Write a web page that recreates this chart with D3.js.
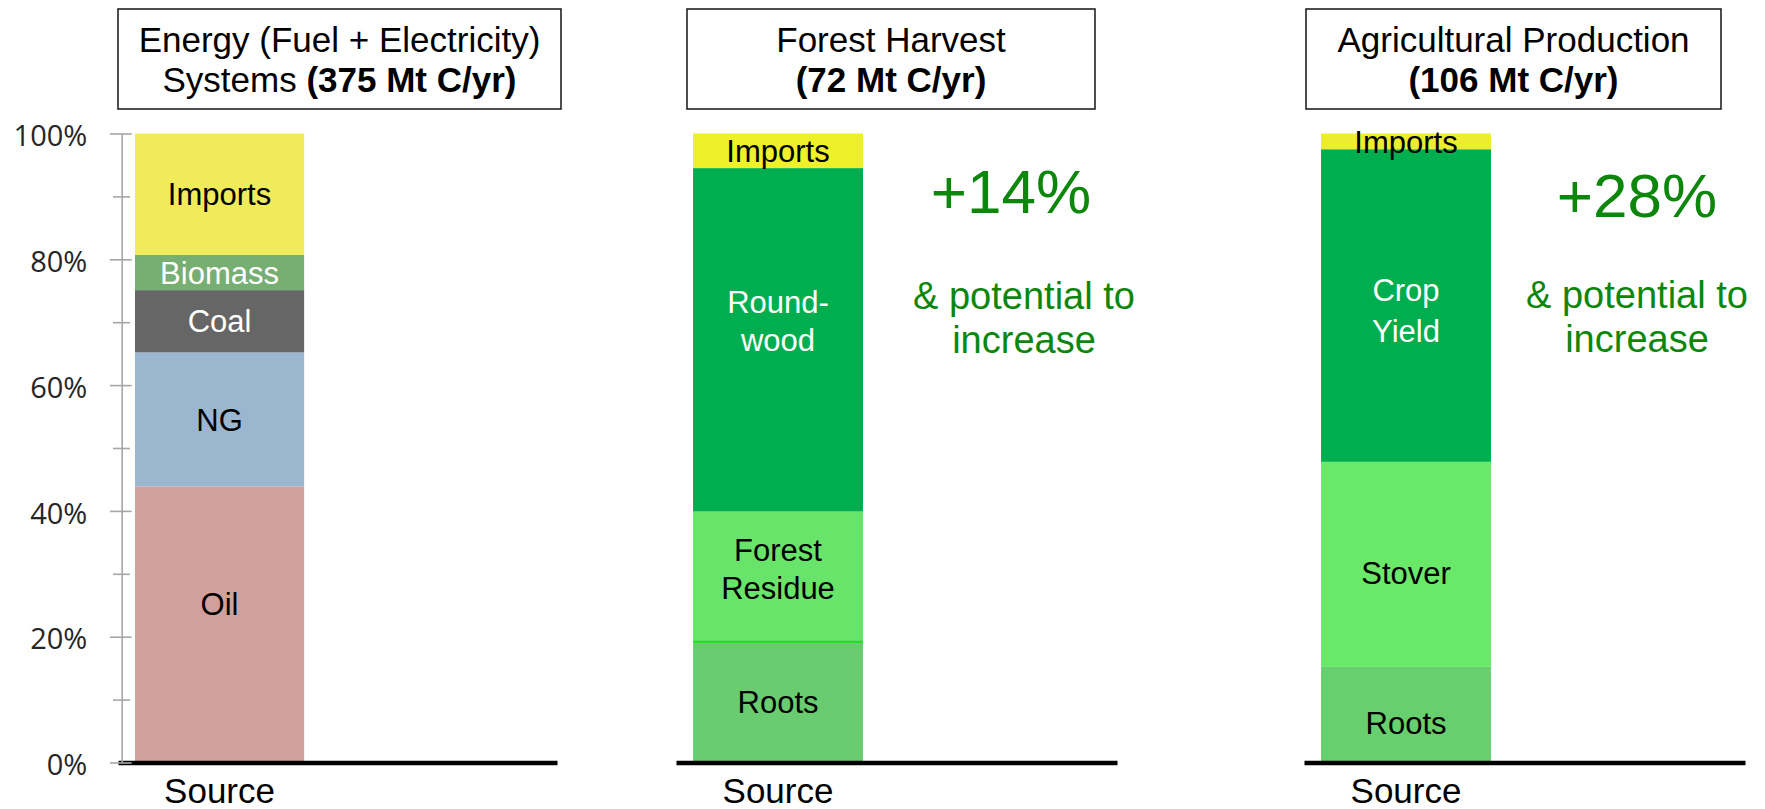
<!DOCTYPE html>
<html>
<head>
<meta charset="utf-8">
<script src="https://cdn.jsdelivr.net/npm/d3@7/dist/d3.min.js"></script>
<style>
    html, body { margin: 0; padding: 0; background: #fff; }
    svg { display: block; }
    .sans { font-family: "Liberation Sans", Arial, Helvetica, sans-serif; }
</style>
</head>
<body>
<svg id="chart" width="1765" height="809"></svg>
<script>
// Kohlenstoffquellen: drei gestapelte 100%-Säulen

// Titel der drei Felder
const titleLine1 = ["Energy (Fuel + Electricity)", "Forest Harvest", "Agricultural Production"];
const titleLead2 = ["Systems ", "", ""];
const titleBold2 = ["(375 Mt C/yr)", "(72 Mt C/yr)", "(106 Mt C/yr)"];

// Kategorien (zweite Kategorie ist leer)
const categories = ["Source", ""];

// Energie
const energySeries = ["Oil", "NG", "Coal", "Biomass", "Imports"];
const energyValues = [43.9, 21.3, 9.9, 5.6, 19.3];
const energyLabels = [["Oil"], ["NG"], ["Coal"], ["Biomass"], ["Imports"]];

// Wald
const forestSeries = ["Roots", "Forest Residue", "Roundwood", "Imports"];
const forestValues = [19.2, 20.7, 54.6, 5.5];
const forestLabels = [["Roots"], ["Forest", "Residue"], ["Round-", "wood"], ["Imports"]];

// Landwirtschaft
const agriSeries = ["Roots", "Stover", "Crop Yield", "Imports"];
const agriValues = [15.2, 32.6, 49.7, 2.5];
const agriLabels = [["Roots"], ["Stover"], ["Crop", "Yield"], ["Imports"]];

// Anmerkungen
const increaseLabels = ["", "+14%", "+28%"];
const increaseNote = ["& potential to", "increase"];

// Y-Achse
const yTicks = [0, 20, 40, 60, 80, 100];
const yMinorTicks = [10, 30, 50, 70, 90];

// Farben
const energyColors = ["#d1a09d", "#9bb6cf", "#666666", "#77ae72", "#efeb5b"];
const energyText = ["#000", "#000", "#fff", "#fff", "#000"];
const forestColors = ["#69cc70", "#68e46a", "#00ae4f", "#eef02a"];
const forestText = ["#000", "#000", "#fff", "#000"];
const agriColors = ["#67cf6d", "#69e86a", "#00ae4f", "#eded2f"];
const agriText = ["#000", "#000", "#fff", "#000"];
const noteColor = "#0c870c";

// Layout der drei Felder
const panels = [
    { key: "energy", series: energySeries, values: energyValues, labels: energyLabels,
      colors: energyColors, text: energyText, axis: [118, 557], box: [118, 561], noteX: null,
      nudge: { Oil: -21 } },
    { key: "forest", series: forestSeries, values: forestValues, labels: forestLabels,
      colors: forestColors, text: forestText, axis: [676, 1117], box: [687, 1095],
      noteX: [1011, 1024], noteY: [213, 309, 353], nudge: { Roundwood: -19, "Forest Residue": -8 },
      lineGap: {}, edge: { Roots: "#22dd22" } },
    { key: "agri", series: agriSeries, values: agriValues, labels: agriLabels,
      colors: agriColors, text: agriText, axis: [1304, 1745], box: [1306, 1721],
      noteX: [1637, 1637], noteY: [217, 308, 352], nudge: { Stover: 8, Roots: 8, "Crop Yield": 5 },
      lineGap: { "Crop Yield": 41 } }
];

const svg = d3.select("#chart");

const y = d3.scaleLinear().domain([0, 100]).range([762.5, 133.5]);

const LABEL_SIZE = 31;
const LABEL_LH = 38;

panels.forEach((p, i) => drawPanel(p, i));
drawYAxis(121.7);

function drawPanel(p, i) {
    const g = svg.append("g").attr("class", "panel " + p.key);

    // Stapel berechnen
    const row = { cat: categories[0] };
    p.series.forEach((s, j) => row[s] = p.values[j]);
    const stacked = d3.stack().keys(p.series)([row]);

    const x = d3.scaleBand()
        .domain(categories)
        .range(p.axis)
        .paddingInner(0.283)
        .paddingOuter(0.072);

    // Segmente
    g.selectAll("rect.seg")
        .data(stacked)
        .join("rect")
        .attr("class", "seg")
        .attr("x", x(categories[0]))
        .attr("width", x.bandwidth())
        .attr("y", d => y(d[0][1]))
        .attr("height", d => y(d[0][0]) - y(d[0][1]))
        .attr("fill", (d, j) => p.colors[j]);

    // Trennlinien
    if (p.edge) {
        g.selectAll("line.edge")
            .data(stacked.filter(d => p.edge[d.key]))
            .join("line")
            .attr("x1", x(categories[0]))
            .attr("x2", x(categories[0]) + x.bandwidth())
            .attr("y1", d => y(d[0][1]))
            .attr("y2", d => y(d[0][1]))
            .attr("stroke", d => p.edge[d.key])
            .attr("stroke-width", 2);
    }

    // Beschriftungen in den Segmenten
    const cx = x(categories[0]) + x.bandwidth() / 2;
    stacked.forEach((d, j) => {
        const lines = p.labels[j];
        const lh = (p.lineGap && p.lineGap[d.key]) || LABEL_LH;
        const mid = (y(d[0][0]) + y(d[0][1])) / 2 + (p.nudge[d.key] || 0);
        const first = mid - (lines.length - 1) * lh / 2 + 0.36 * LABEL_SIZE;
        const t = g.append("text")
            .attr("class", "sans")
            .attr("text-anchor", "middle")
            .attr("font-size", LABEL_SIZE)
            .attr("fill", p.text[j]);
        lines.forEach((ln, k) => {
            t.append("tspan").attr("x", cx).attr("y", first + k * lh).text(ln);
        });
    });

    // X-Achse
    const xAxis = d3.axisBottom(x).tickSize(0).tickSizeOuter(0).tickPadding(16);
    const ax = g.append("g")
        .attr("transform", `translate(0,${y(0)})`)
        .call(xAxis);
    ax.select(".domain").attr("stroke", "#000").attr("stroke-width", 4.5);
    ax.selectAll("text")
        .attr("class", "sans")
        .attr("font-size", 35)
        .attr("fill", "#000");

    // Titelbox
    const [bx0, bx1] = p.box;
    g.append("rect")
        .attr("x", bx0).attr("y", 9)
        .attr("width", bx1 - bx0).attr("height", 100)
        .attr("fill", "#fff")
        .attr("stroke", "#222")
        .attr("stroke-width", 1.6);

    const tx = (bx0 + bx1) / 2;
    g.append("text")
        .attr("class", "sans")
        .attr("x", tx).attr("y", 52)
        .attr("text-anchor", "middle")
        .attr("font-size", 35)
        .text(titleLine1[i]);

    const t2 = g.append("text")
        .attr("class", "sans")
        .attr("x", tx).attr("y", 92)
        .attr("text-anchor", "middle")
        .attr("font-size", 35);
    if (titleLead2[i]) t2.append("tspan").text(titleLead2[i]);
    t2.append("tspan").attr("font-weight", "bold").text(titleBold2[i]);

    // Zuwachs-Anmerkung
    if (p.noteX) {
        g.append("text")
            .attr("class", "sans")
            .attr("x", p.noteX[0]).attr("y", p.noteY[0])
            .attr("text-anchor", "middle")
            .attr("font-size", 62)
            .attr("fill", noteColor)
            .text(increaseLabels[i]);

        increaseNote.forEach((ln, k) => {
            g.append("text")
                .attr("class", "sans")
                .attr("x", p.noteX[1]).attr("y", p.noteY[k + 1])
                .attr("text-anchor", "middle")
                .attr("font-size", 38)
                .attr("fill", noteColor)
                .text(ln);
        });
    }
}

// Y-Achse mit Kreuz-Teilstrichen (nur links)
function drawYAxis(ax) {
    const major = d3.axisLeft(y)
        .tickValues(yTicks)
        .tickFormat(d => d + "%")
        .tickSize(11.7)
        .tickSizeOuter(0)
        .tickPadding(22.7);

    const g = svg.append("g")
        .attr("transform", `translate(${ax},0)`)
        .call(major);

    g.select(".domain").attr("stroke", "#a6a6a6").attr("stroke-width", 1.6);
    g.selectAll(".tick line")
        .attr("x1", 10)
        .attr("stroke", "#a6a6a6")
        .attr("stroke-width", 1.6);
    g.selectAll(".tick text")
        .attr("font-family", "'Open Sans', 'DejaVu Sans', sans-serif")
        .attr("font-size", 29)
        .attr("fill", "#262626")
        .attr("dy", "0.42em");

    const minor = d3.axisLeft(y)
        .tickValues(yMinorTicks)
        .tickFormat("")
        .tickSize(8.7)
        .tickSizeOuter(0);

    const gm = svg.append("g")
        .attr("transform", `translate(${ax},0)`)
        .call(minor);
    gm.select(".domain").remove();
    gm.selectAll(".tick line")
        .attr("x1", 8.3)
        .attr("stroke", "#a6a6a6")
        .attr("stroke-width", 1.6);
}
</script>
</body>
</html>
